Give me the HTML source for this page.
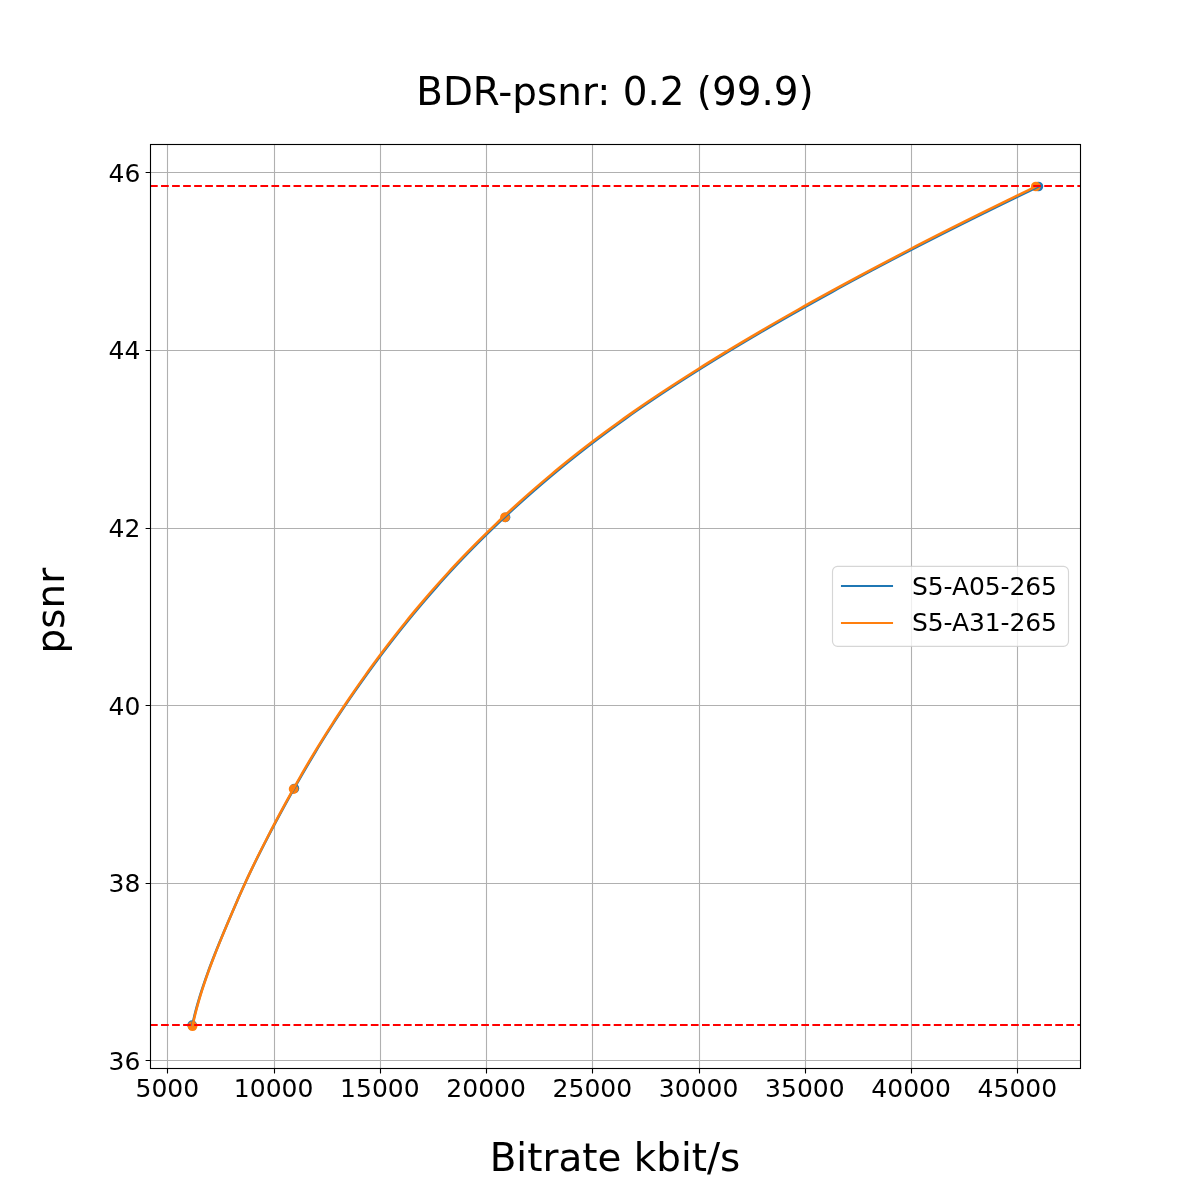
<!DOCTYPE html><html><head><meta charset="utf-8"><title>BDR-psnr</title>
<style>html,body{margin:0;padding:0;background:#fff}svg{display:block}text{font-family:"DejaVu Sans", "Liberation Sans", sans-serif;fill:#000}</style></head><body>
<svg width="1200" height="1200" viewBox="0 0 1200 1200">
<rect width="1200" height="1200" fill="#fff"/>
<path d="M167.5 144 V1068 M274.5 144 V1068 M380.5 144 V1068 M486.5 144 V1068 M592.5 144 V1068 M699.5 144 V1068 M805.5 144 V1068 M911.5 144 V1068 M1017.5 144 V1068 M150 1060.5 H1080 M150 883.5 H1080 M150 705.5 H1080 M150 528.5 H1080 M150 350.5 H1080 M150 172.5 H1080" stroke="#b0b0b0" stroke-width="1.11" fill="none"/>
<path d="M167.5 1068.5 v4.9 M274.5 1068.5 v4.9 M380.5 1068.5 v4.9 M486.5 1068.5 v4.9 M592.5 1068.5 v4.9 M699.5 1068.5 v4.9 M805.5 1068.5 v4.9 M911.5 1068.5 v4.9 M1017.5 1068.5 v4.9 M150.5 1060.5 h-4.9 M150.5 883.5 h-4.9 M150.5 705.5 h-4.9 M150.5 528.5 h-4.9 M150.5 350.5 h-4.9 M150.5 172.5 h-4.9" stroke="#000" stroke-width="1.11" fill="none"/>
<clipPath id="c"><rect x="150" y="144" width="930" height="924"/></clipPath>
<g clip-path="url(#c)">
<circle cx="192.20" cy="1025.20" r="4.85" fill="#1f77b4"/>
<circle cx="294.40" cy="788.50" r="4.85" fill="#1f77b4"/>
<circle cx="505.50" cy="517.30" r="4.85" fill="#1f77b4"/>
<circle cx="1038.40" cy="186.50" r="4.85" fill="#1f77b4"/>
<circle cx="192.50" cy="1026.20" r="4.85" fill="#ff7f0e"/>
<circle cx="293.60" cy="789.10" r="4.85" fill="#ff7f0e"/>
<circle cx="505.00" cy="517.30" r="4.85" fill="#ff7f0e"/>
<circle cx="1035.80" cy="186.50" r="4.85" fill="#ff7f0e"/>
<path d="M192.31 1025.20 L193.07 1021.69 L193.88 1018.18 L194.74 1014.67 L195.63 1011.16 L196.57 1007.65 L197.54 1004.14 L198.55 1000.64 L199.60 997.13 L200.68 993.62 L201.80 990.11 L202.94 986.60 L204.12 983.09 L205.33 979.58 L206.56 976.07 L207.82 972.56 L209.11 969.05 L210.42 965.54 L211.75 962.03 L213.11 958.53 L214.48 955.02 L215.87 951.51 L217.28 948.00 L218.70 944.49 L220.14 940.98 L221.59 937.47 L223.05 933.96 L224.52 930.45 L226.00 926.94 L227.48 923.43 L228.97 919.92 L230.47 916.41 L231.97 912.91 L233.48 909.40 L235.00 905.89 L236.53 902.38 L238.07 898.87 L239.62 895.36 L241.19 891.85 L242.78 888.34 L244.38 884.83 L246.00 881.32 L247.63 877.81 L249.29 874.30 L250.97 870.79 L252.66 867.29 L254.37 863.78 L256.10 860.27 L257.84 856.76 L259.60 853.25 L261.37 849.74 L263.15 846.23 L264.95 842.72 L266.76 839.21 L268.58 835.70 L270.41 832.19 L272.25 828.68 L274.10 825.18 L275.96 821.67 L277.83 818.16 L279.71 814.65 L281.60 811.14 L283.51 807.63 L285.42 804.12 L287.35 800.61 L289.29 797.10 L291.24 793.59 L293.21 790.08 L295.18 786.57 L297.16 783.06 L299.16 779.56 L301.18 776.05 L303.20 772.54 L305.25 769.03 L307.30 765.52 L309.38 762.01 L311.46 758.50 L313.57 754.99 L315.69 751.48 L317.83 747.97 L319.98 744.46 L322.15 740.95 L324.34 737.45 L326.55 733.94 L328.77 730.43 L331.02 726.92 L333.28 723.41 L335.56 719.90 L337.86 716.39 L340.18 712.88 L342.51 709.37 L344.87 705.86 L347.24 702.35 L349.63 698.84 L352.04 695.33 L354.48 691.83 L356.93 688.32 L359.40 684.81 L361.88 681.30 L364.38 677.79 L366.90 674.28 L369.43 670.77 L371.99 667.26 L374.56 663.75 L377.15 660.24 L379.76 656.73 L382.40 653.22 L385.05 649.72 L387.73 646.21 L390.42 642.70 L393.14 639.19 L395.89 635.68 L398.65 632.17 L401.44 628.66 L404.26 625.15 L407.09 621.64 L409.96 618.13 L412.84 614.62 L415.76 611.11 L418.70 607.60 L421.66 604.10 L424.65 600.59 L427.67 597.08 L430.72 593.57 L433.79 590.06 L436.90 586.55 L440.03 583.04 L443.19 579.53 L446.38 576.02 L449.60 572.51 L452.85 569.00 L456.13 565.49 L459.44 561.98 L462.79 558.48 L466.16 554.97 L469.57 551.46 L473.01 547.95 L476.49 544.44 L480.00 540.93 L483.54 537.42 L487.11 533.91 L490.73 530.40 L494.37 526.89 L498.05 523.38 L501.77 519.87 L505.53 516.37 L509.31 512.86 L513.12 509.35 L516.97 505.84 L520.86 502.33 L524.78 498.82 L528.73 495.31 L532.73 491.80 L536.75 488.29 L540.82 484.78 L544.92 481.27 L549.06 477.76 L553.24 474.25 L557.46 470.75 L561.71 467.24 L566.01 463.73 L570.35 460.22 L574.74 456.71 L579.17 453.20 L583.64 449.69 L588.17 446.18 L592.74 442.67 L597.36 439.16 L602.03 435.65 L606.76 432.14 L611.54 428.64 L616.37 425.13 L621.25 421.62 L626.18 418.11 L631.16 414.60 L636.19 411.09 L641.26 407.58 L646.39 404.07 L651.56 400.56 L656.78 397.05 L662.04 393.54 L667.35 390.03 L672.70 386.52 L678.10 383.02 L683.53 379.51 L689.02 376.00 L694.54 372.49 L700.11 368.98 L705.71 365.47 L711.36 361.96 L717.04 358.45 L722.77 354.94 L728.53 351.43 L734.34 347.92 L740.19 344.41 L746.07 340.91 L751.99 337.40 L757.95 333.89 L763.95 330.38 L769.99 326.87 L776.06 323.36 L782.17 319.85 L788.31 316.34 L794.49 312.83 L800.71 309.32 L806.96 305.81 L813.24 302.30 L819.56 298.79 L825.92 295.29 L832.31 291.78 L838.73 288.27 L845.18 284.76 L851.67 281.25 L858.19 277.74 L864.74 274.23 L871.33 270.72 L877.94 267.21 L884.59 263.70 L891.27 260.19 L897.98 256.68 L904.72 253.17 L911.49 249.67 L918.30 246.16 L925.14 242.65 L932.01 239.14 L938.91 235.63 L945.84 232.12 L952.80 228.61 L959.78 225.10 L966.79 221.59 L973.83 218.08 L980.90 214.57 L988.00 211.06 L995.12 207.56 L1002.27 204.05 L1009.45 200.54 L1016.65 197.03 L1023.88 193.52 L1031.13 190.01 L1038.41 186.50" stroke="#1f77b4" stroke-width="2.5" fill="none" stroke-linejoin="round" stroke-linecap="square"/>
<path d="M192.50 1026.20 L193.24 1022.69 L194.03 1019.17 L194.86 1015.66 L195.73 1012.15 L196.65 1008.63 L197.60 1005.12 L198.59 1001.61 L199.62 998.09 L200.68 994.58 L201.78 991.07 L202.91 987.55 L204.07 984.04 L205.26 980.53 L206.48 977.01 L207.72 973.50 L208.99 969.99 L210.28 966.47 L211.60 962.96 L212.94 959.45 L214.30 955.93 L215.67 952.42 L217.07 948.91 L218.48 945.39 L219.90 941.88 L221.34 938.37 L222.79 934.85 L224.24 931.34 L225.71 927.83 L227.19 924.31 L228.67 920.80 L230.15 917.28 L231.64 913.77 L233.14 910.26 L234.65 906.74 L236.16 903.23 L237.69 899.72 L239.23 896.20 L240.78 892.69 L242.35 889.18 L243.93 885.66 L245.53 882.15 L247.15 878.64 L248.79 875.12 L250.45 871.61 L252.12 868.10 L253.82 864.58 L255.53 861.07 L257.25 857.56 L258.99 854.04 L260.75 850.53 L262.51 847.02 L264.29 843.50 L266.09 839.99 L267.89 836.48 L269.70 832.96 L271.53 829.45 L273.36 825.94 L275.20 822.42 L277.06 818.91 L278.92 815.40 L280.80 811.88 L282.69 808.37 L284.59 804.86 L286.50 801.34 L288.42 797.83 L290.36 794.32 L292.31 790.80 L294.27 787.29 L296.25 783.78 L298.24 780.26 L300.24 776.75 L302.26 773.24 L304.30 769.72 L306.34 766.21 L308.41 762.70 L310.49 759.18 L312.59 755.67 L314.70 752.16 L316.83 748.64 L318.97 745.13 L321.14 741.62 L323.32 738.10 L325.51 734.59 L327.73 731.08 L329.97 727.56 L332.22 724.05 L334.49 720.54 L336.78 717.02 L339.09 713.51 L341.42 709.99 L343.76 706.48 L346.13 702.97 L348.51 699.45 L350.91 695.94 L353.32 692.43 L355.75 688.91 L358.20 685.40 L360.67 681.89 L363.15 678.37 L365.65 674.86 L368.17 671.35 L370.71 667.83 L373.26 664.32 L375.84 660.81 L378.43 657.29 L381.05 653.78 L383.68 650.27 L386.34 646.75 L389.02 643.24 L391.72 639.73 L394.45 636.21 L397.20 632.70 L399.97 629.19 L402.76 625.67 L405.58 622.16 L408.43 618.65 L411.30 615.13 L414.19 611.62 L417.11 608.11 L420.06 604.59 L423.04 601.08 L426.04 597.57 L429.07 594.05 L432.13 590.54 L435.21 587.03 L438.33 583.51 L441.47 580.00 L444.64 576.49 L447.85 572.97 L451.08 569.46 L454.35 565.95 L457.64 562.43 L460.97 558.92 L464.33 555.41 L467.72 551.89 L471.15 548.38 L474.60 544.87 L478.10 541.35 L481.62 537.84 L485.18 534.33 L488.78 530.81 L492.41 527.30 L496.07 523.79 L499.77 520.27 L503.51 516.76 L507.28 513.25 L511.09 509.73 L514.94 506.22 L518.82 502.71 L522.73 499.19 L526.68 495.68 L530.67 492.16 L534.69 488.65 L538.75 485.14 L542.85 481.62 L546.98 478.11 L551.15 474.60 L555.37 471.08 L559.62 467.57 L563.91 464.06 L568.25 460.54 L572.63 457.03 L577.05 453.52 L581.52 450.00 L586.04 446.49 L590.61 442.98 L595.22 439.46 L599.89 435.95 L604.61 432.44 L609.39 428.92 L614.21 425.41 L619.09 421.90 L624.01 418.38 L628.99 414.87 L634.01 411.36 L639.09 407.84 L644.21 404.33 L649.37 400.82 L654.59 397.30 L659.85 393.79 L665.15 390.28 L670.50 386.76 L675.89 383.25 L681.33 379.74 L686.81 376.22 L692.33 372.71 L697.89 369.20 L703.50 365.68 L709.14 362.17 L714.83 358.66 L720.55 355.14 L726.31 351.63 L732.11 348.12 L737.96 344.60 L743.83 341.09 L749.75 337.58 L755.71 334.06 L761.70 330.55 L767.73 327.04 L773.80 323.52 L779.90 320.01 L786.04 316.50 L792.22 312.98 L798.43 309.47 L804.67 305.96 L810.95 302.44 L817.27 298.93 L823.62 295.42 L830.00 291.90 L836.42 288.39 L842.87 284.87 L849.36 281.36 L855.87 277.85 L862.42 274.33 L869.00 270.82 L875.61 267.31 L882.26 263.79 L888.93 260.28 L895.64 256.77 L902.37 253.25 L909.14 249.74 L915.94 246.23 L922.76 242.71 L929.62 239.20 L936.51 235.69 L943.42 232.17 L950.36 228.66 L957.33 225.15 L964.33 221.63 L971.36 218.12 L978.41 214.61 L985.49 211.09 L992.60 207.58 L999.74 204.07 L1006.90 200.55 L1014.09 197.04 L1021.30 193.53 L1028.54 190.01 L1035.81 186.50" stroke="#ff7f0e" stroke-width="2.5" fill="none" stroke-linejoin="round" stroke-linecap="square"/>
<path d="M150 186 H1080" stroke="#ff0000" stroke-width="2.08" stroke-dasharray="7.71 3.33" fill="none"/>
<path d="M150 1025 H1080" stroke="#ff0000" stroke-width="2.08" stroke-dasharray="7.71 3.33" fill="none"/>
</g>
<rect x="150.5" y="144.5" width="930" height="924" fill="none" stroke="#000" stroke-width="1.11"/>
<text x="167.35" y="1097" font-size="25" text-anchor="middle">5000</text>
<text x="273.60" y="1097" font-size="25" text-anchor="middle">10000</text>
<text x="379.85" y="1097" font-size="25" text-anchor="middle">15000</text>
<text x="486.10" y="1097" font-size="25" text-anchor="middle">20000</text>
<text x="592.35" y="1097" font-size="25" text-anchor="middle">25000</text>
<text x="698.60" y="1097" font-size="25" text-anchor="middle">30000</text>
<text x="804.85" y="1097" font-size="25" text-anchor="middle">35000</text>
<text x="911.10" y="1097" font-size="25" text-anchor="middle">40000</text>
<text x="1017.35" y="1097" font-size="25" text-anchor="middle">45000</text>
<text x="140.3" y="1069.75" font-size="25" text-anchor="end">36</text>
<text x="140.3" y="892.15" font-size="25" text-anchor="end">38</text>
<text x="140.3" y="714.55" font-size="25" text-anchor="end">40</text>
<text x="140.3" y="536.95" font-size="25" text-anchor="end">42</text>
<text x="140.3" y="359.35" font-size="25" text-anchor="end">44</text>
<text x="140.3" y="181.75" font-size="25" text-anchor="end">46</text>
<text x="615" y="104.6" font-size="38.89" text-anchor="middle">BDR-psnr: 0.2 (99.9)</text>
<text x="615" y="1170.5" font-size="38.89" text-anchor="middle">Bitrate kbit/s</text>
<text transform="translate(64.1 610.6) rotate(-90)" font-size="38.89" text-anchor="middle">psnr</text>
<rect x="832.5" y="566.4" width="236" height="79.9" rx="5" ry="5" fill="#fff" fill-opacity="0.8" stroke="#cccccc" stroke-opacity="0.8" stroke-width="1.15"/>
<path d="M842 586 H892" stroke="#1f77b4" stroke-width="2.08" stroke-linecap="square"/>
<path d="M842 623 H892" stroke="#ff7f0e" stroke-width="2.08" stroke-linecap="square"/>
<text x="912" y="594.7" font-size="25" letter-spacing="-0.1">S5-A05-265</text>
<text x="912" y="630.7" font-size="25" letter-spacing="-0.1">S5-A31-265</text>
</svg></body></html>
